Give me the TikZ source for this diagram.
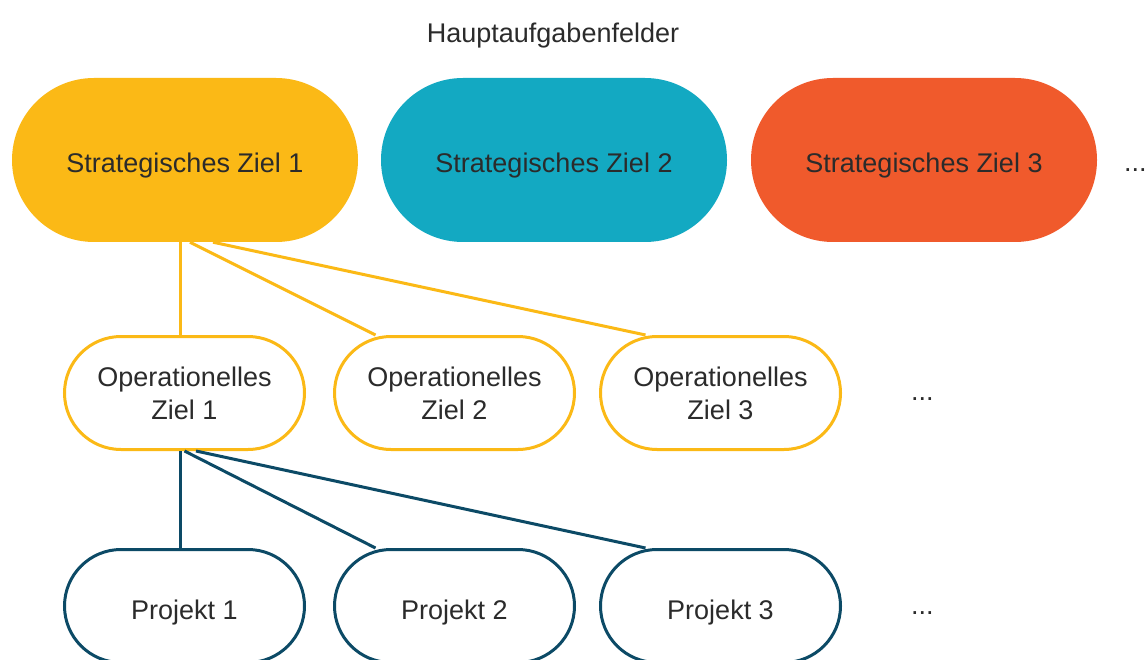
\documentclass[tikz,border=0pt]{standalone}
\usepackage{fontspec}
\setmainfont{Liberation Sans}
\definecolor{cyel}{HTML}{FBB916}
\definecolor{cteal}{HTML}{13A9C2}
\definecolor{corange}{HTML}{F05A2C}
\definecolor{cnavy}{HTML}{0C4A66}
\definecolor{ctext}{HTML}{2B2B2B}
\tikzset{
  txt/.style={font=\fontsize{27}{33}\selectfont, text=ctext},
  stratbox/.style={txt, rectangle, rounded corners=82pt, minimum width=346pt, minimum height=164pt, inner sep=0pt, text height=26pt, text depth=0pt},
  opbox/.style={txt, rectangle, draw=cyel, line width=3pt, fill=white, rounded corners=56.5pt, minimum width=240pt, minimum height=113pt, inner sep=0pt, align=center},
  projbox/.style={txt, rectangle, draw=cnavy, line width=3pt, fill=white, rounded corners=56.5pt, minimum width=240pt, minimum height=113pt, inner sep=0pt, text height=26pt, text depth=0pt},
  ylink/.style={draw=cyel, line width=3pt},
  blink/.style={draw=cnavy, line width=3pt},
  dots/.style={txt, inner sep=0pt, anchor=base west}
}
\begin{document}
\begin{tikzpicture}[x=1pt,y=-1pt]
\useasboundingbox[fill=white] (0,0) rectangle (1148,660);
\node[txt, anchor=base, inner sep=0pt] (title) at (553,43) {Hauptaufgabenfelder};
\node[stratbox, fill=cyel] (s1) at (185,160) {Strategisches Ziel 1};
\node[stratbox, fill=cteal] (s2) at (554,160) {Strategisches Ziel 2};
\node[stratbox, fill=corange] (s3) at (924,160) {Strategisches Ziel 3};
\node[dots] (d1) at (1124,172) {...};
\node[opbox] (o1) at (184.5,393) {Operationelles\\Ziel 1};
\node[opbox] (o2) at (454.5,393) {Operationelles\\Ziel 2};
\node[opbox] (o3) at (720.5,393) {Operationelles\\Ziel 3};
\node[dots] (d2) at (911,400) {...};
\node[projbox] (p1) at (184.5,606) {Projekt 1};
\node[projbox] (p2) at (454.5,606) {Projekt 2};
\node[projbox] (p3) at (720.5,606) {Projekt 3};
\node[dots] (d3) at (911,614) {...};
\draw[ylink] ([xshift=-5pt]s1.south) -- ([xshift=-4.5pt]o1.north);
\draw[ylink] ([xshift=5pt]s1.south) -- ([xshift=42.5pt]o2.north west);
\draw[ylink] ([xshift=28pt]s1.south) -- ([xshift=46.5pt]o3.north west);
\draw[blink] ([xshift=-4.5pt]o1.south) -- ([xshift=-4.5pt]p1.north);
\draw[blink] (o1.south) -- ([xshift=42.5pt]p2.north west);
\draw[blink] ([xshift=11.5pt]o1.south) -- ([xshift=46.5pt]p3.north west);
\end{tikzpicture}
\end{document}
